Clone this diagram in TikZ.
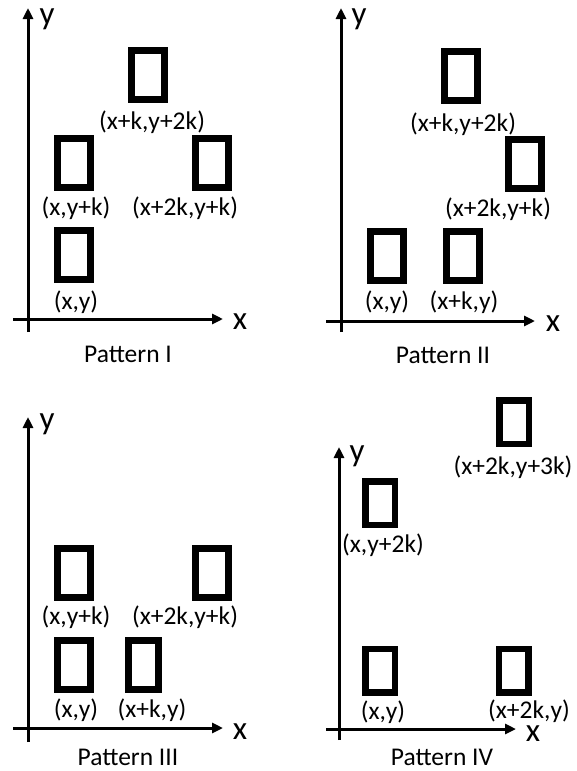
\documentclass[tikz,border=0pt]{standalone}
\usepackage{fontspec}
\setmainfont{Carlito}
\usetikzlibrary{arrows.meta}
\begin{document}
\begin{tikzpicture}[x=1pt,y=-1pt,
  axis/.style={line width=3pt,-{Triangle[length=11pt,width=10pt]}},
  box/.style={draw,line width=7pt,minimum width=33pt,minimum height=49pt,inner sep=0pt,outer sep=0pt},
  sbox/.style={draw,line width=6.5pt,minimum width=29.5pt,minimum height=43.5pt,inner sep=0pt,outer sep=0pt},
  lab/.style={inner sep=0pt,font=\fontsize{25.5}{30}\selectfont},
  axlab/.style={inner sep=0pt,font=\fontsize{33}{38}\selectfont},
  ttl/.style={inner sep=0pt,font=\fontsize{25.5}{30}\selectfont}]
\useasboundingbox (0,0) rectangle (577,771);
% ---------- Pattern I ----------
\coordinate (y1s) at (28,332); \coordinate (y1e) at (28,8);
\coordinate (x1s) at (13,319); \coordinate (x1e) at (223,319);
\draw[axis] (y1s) -- (y1e);
\draw[axis] (x1s) -- (x1e);
\node[axlab] (ylab1) at (47,19) {y};
\node[axlab] (xlab1) at (240,322) {x};
\node[box] (p1a) at (148,75) {};
\node[box] (p1b) at (73.5,163) {};
\node[box] (p1c) at (212,163) {};
\node[box] (p1d) at (73.5,254.5) {};
\node[lab] (l1a) at (152,122) {(x+k,y+2k)};
\node[lab] (l1b) at (76,208) {(x,y+k)};
\node[lab] (l1c) at (185,208) {(x+2k,y+k)};
\node[lab] (l1d) at (76,302) {(x,y)};
\node[ttl] (t1) at (128,354) {Pattern I};
% ---------- Pattern II ----------
\coordinate (y2s) at (341,332); \coordinate (y2e) at (341,8);
\coordinate (x2s) at (326,321); \coordinate (x2e) at (535,321);
\draw[axis] (y2s) -- (y2e);
\draw[axis] (x2s) -- (x2e);
\node[axlab] (ylab2) at (359,19) {y};
\node[axlab] (xlab2) at (553,324) {x};
\node[box] (p2a) at (461,76) {};
\node[box] (p2b) at (525,164) {};
\node[box] (p2c) at (386.5,256) {};
\node[box] (p2d) at (462.5,256) {};
\node[lab] (l2a) at (463,124) {(x+k,y+2k)};
\node[lab] (l2b) at (498,209) {(x+2k,y+k)};
\node[lab] (l2c) at (387,302) {(x,y)};
\node[lab] (l2d) at (464,302) {(x+k,y)};
\node[ttl] (t2) at (443,355) {Pattern II};
% ---------- Pattern III ----------
\coordinate (y3s) at (28,742); \coordinate (y3e) at (28,417);
\coordinate (x3s) at (13,728); \coordinate (x3e) at (223,728);
\draw[axis] (y3s) -- (y3e);
\draw[axis] (x3s) -- (x3e);
\node[axlab] (ylab3) at (47,424) {y};
\node[axlab] (xlab3) at (240,732) {x};
\node[box] (p3a) at (73.5,572.5) {};
\node[box] (p3b) at (212,572.5) {};
\node[box] (p3c) at (73.5,664.5) {};
\node[box,minimum width=30pt] (p3d) at (143.5,664.5) {};
\node[lab] (l3a) at (76,617) {(x,y+k)};
\node[lab] (l3b) at (185,617) {(x+2k,y+k)};
\node[lab] (l3c) at (76,710) {(x,y)};
\node[lab] (l3d) at (152,710) {(x+k,y)};
\node[ttl] (t3) at (128,757) {Pattern III};
% ---------- Pattern IV ----------
\coordinate (y4s) at (339,740); \coordinate (y4e) at (339,447);
\coordinate (x4s) at (326,729); \coordinate (x4e) at (516,729);
\draw[axis] (y4s) -- (y4e);
\draw[axis] (x4s) -- (x4e);
\node[axlab] (ylab4) at (357,456) {y};
\node[axlab] (xlab4) at (533,734) {x};
\node[sbox] (p4a) at (514,422) {};
\node[sbox] (p4b) at (380,503) {};
\node[sbox] (p4c) at (380,670.5) {};
\node[sbox] (p4d) at (513.5,670.5) {};
\node[lab] (l4a) at (513,467) {(x+2k,y+3k)};
\node[lab] (l4b) at (383,545) {(x,y+2k)};
\node[lab] (l4c) at (383,712) {(x,y)};
\node[lab] (l4d) at (529,711) {(x+2k,y)};
\node[ttl] (t4) at (442,757) {Pattern IV};
\end{tikzpicture}
\end{document}
